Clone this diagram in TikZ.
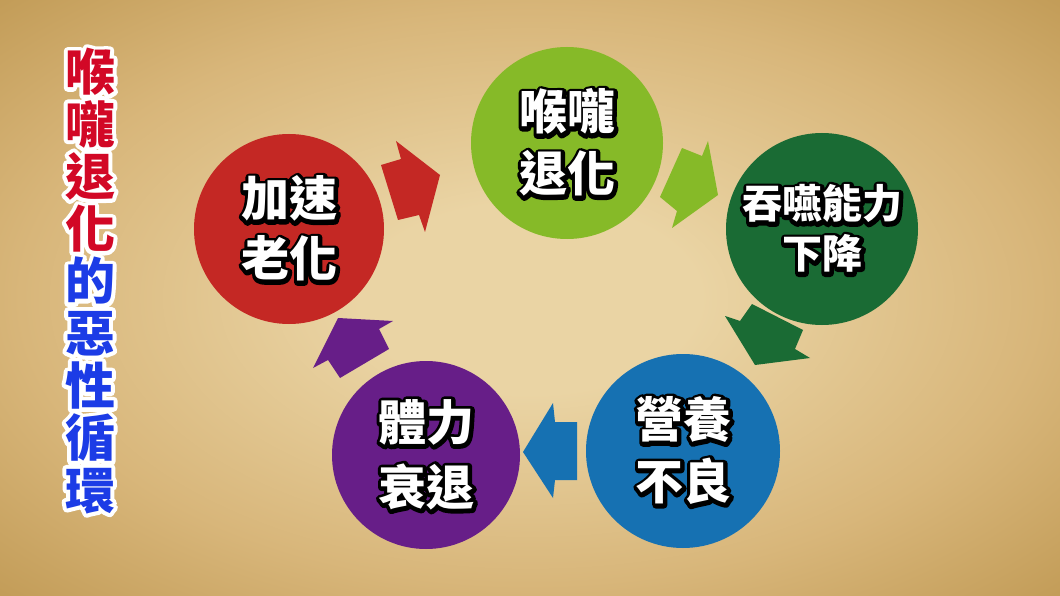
\documentclass[tikz,border=0pt]{standalone}
\usepackage{fontspec}
\newfontfamily\cjk{Noto Sans CJK TC Black}
\definecolor{bgA}{RGB}{234,212,164}
\definecolor{bgB}{RGB}{216,182,122}
\definecolor{bgC}{RGB}{186,146,74}
\definecolor{bgD}{RGB}{158,120,52}
\definecolor{bgE}{RGB}{138,106,42}
\definecolor{cGreen}{RGB}{134,186,40}
\definecolor{cDark}{RGB}{26,107,52}
\definecolor{cBlue}{RGB}{22,113,178}
\definecolor{cPurple}{RGB}{103,30,136}
\definecolor{cRed}{RGB}{196,40,36}
\definecolor{tRed}{RGB}{210,8,38}
\definecolor{tBlue}{RGB}{28,60,230}
\pgfdeclareradialshading{parch}{\pgfpoint{0bp}{0bp}}{color(0bp)=(bgA); color(8bp)=(bgA); color(24bp)=(bgB); color(40bp)=(bgC); color(55bp)=(bgD); color(72bp)=(bgE)}
% white text with a black outline (slightly shadowed) behind it
\newcommand\blk[1]{\rlap{\kern0.8pt\raisebox{-0.8pt}{\color{black}\special{pdf:literal direct 7.5 w 1 j 2 Tr}#1\special{pdf:literal direct 0 Tr}}}#1}
% coloured text with a white outline behind it
\newcommand\wch[2]{\rlap{\color{white}\special{pdf:literal direct 8 w 1 j 2 Tr}#2\special{pdf:literal direct 0 Tr}}{\color{#1}#2}}
\tikzset{
  stage/.style={circle, minimum size=192pt, inner sep=0pt, text=white, align=center,
    font=\cjk\fontsize{48}{62}\selectfont},
  blockarrow/.style={draw=none}
}
\begin{document}
\begin{tikzpicture}[x=1pt,y=-1pt]
\useasboundingbox (0,0) rectangle (1060,596);
\fill[shading=parch] (0,0) rectangle (1060,596);

% title
\node[font=\cjk\fontsize{50}{52.3}\selectfont, align=center, inner sep=0pt] (title) at (90,281)
  {\wch{tRed}{喉}\\\wch{tRed}{嚨}\\\wch{tRed}{退}\\\wch{tRed}{化}\\\wch{tBlue}{的}\\\wch{tBlue}{惡}\\\wch{tBlue}{性}\\\wch{tBlue}{循}\\\wch{tBlue}{環}};

% stages
\node[stage, fill=cGreen] (throat) at (567,143) {\blk{喉嚨}\\\blk{退化}};
\node[stage, fill=cDark, font=\cjk\fontsize{40}{50}\selectfont] (swallow) at (822,229) {\blk{吞嚥能力}\\\blk{下降}};
\node[stage, fill=cBlue, minimum size=194pt] (nutri) at (683,451) {\blk{營養}\\\blk{不良}};
\node[stage, fill=cPurple, minimum size=188pt, font=\cjk\fontsize{48}{65}\selectfont] (body) at (426,455) {\blk{體力}\\\blk{衰退}};
\node[stage, fill=cRed, minimum size=190pt, font=\cjk\fontsize{48}{60}\selectfont] (aging) at (289,229) {\blk{加速}\\\blk{老化}};

% block arrows
\fill[blockarrow, cRed] (440,175) -- (425,232) -- (419,215) -- (398,220) -- (381,165) -- (401,159) -- (396,141) -- cycle;
\fill[blockarrow, cGreen] (718,195) -- (672,228) -- (677,211) -- (660,197) -- (682,148) -- (702,156) -- (708,141) -- cycle;
\fill[blockarrow, cDark] (755,365) -- (810,358) -- (795,349) -- (803,330) -- (752,304) -- (740,321) -- (725,316) -- cycle;
\fill[blockarrow, cBlue] (523,452) -- (553,498) -- (555,480) -- (577,480) -- (577,422) -- (555,422) -- (553,403) -- cycle;
\fill[blockarrow, cPurple] (338,318) -- (393,321) -- (379,329) -- (389,349) -- (340,378) -- (328,360) -- (313,368) -- cycle;
\end{tikzpicture}
\end{document}
